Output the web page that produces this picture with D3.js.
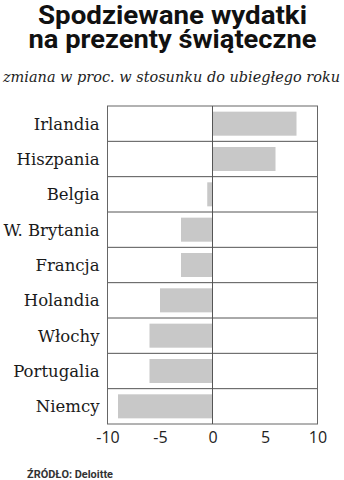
<!DOCTYPE html>
<html><head><meta charset="utf-8">
<script src="https://cdn.jsdelivr.net/npm/d3@7/dist/d3.min.js"></script>
<style>body{margin:0;background:#fff}svg{display:block}</style>
</head><body>
<script>
const categories = ["Irlandia","Hiszpania","Belgia","W. Brytania","Francja","Holandia","Włochy","Portugalia","Niemcy"];
const values = [8, 6, -0.5, -3, -3, -5, -6, -6, -9];
const tickValues = [-10, -5, 0, 5, 10];
const titleLines = ["Spodziewane wydatki", "na prezenty świąteczne"];
const subtitle = "zmiana w proc. w stosunku do ubiegłego roku";
const source = "ŹRÓDŁO: Deloitte";

const W = 344, H = 480;
const svg = d3.select("body").append("svg").attr("width", W).attr("height", H);
const x = d3.scaleLinear().domain([-10, 10]).range([107.5, 317.5]);
const y = d3.scaleBand().domain(categories).range([106, 424]).paddingInner(0.32).paddingOuter(0.16);
const rowH = (424 - 106) / categories.length;

const titleW = [269, 288];
svg.selectAll("text.title").data(titleLines).join("text")
  .attr("x", (d, i) => 172.5 - titleW[i] / 2).attr("y", (d, i) => 24 + i * 23.5)
  .attr("font-family", "Roboto").attr("font-weight", 700).attr("font-size", 26)
  .attr("textLength", (d, i) => titleW[i]).attr("lengthAdjust", "spacingAndGlyphs")
  .attr("fill", "#111").text(d => d);

svg.append("text").attr("x", 3).attr("y", 82)
  .attr("font-family", "DejaVu Serif").attr("font-style", "italic").attr("font-size", 14.5)
  .attr("fill", "#222").attr("textLength", 337).attr("lengthAdjust", "spacingAndGlyphs").text(subtitle);

// bars
svg.selectAll("rect.bar").data(values).join("rect")
  .attr("x", d => x(Math.min(0, d)))
  .attr("width", d => Math.abs(x(d) - x(0)))
  .attr("y", (d, i) => y(categories[i]))
  .attr("height", y.bandwidth())
  .attr("fill", "#c8c8c8");

// row separators
const g = svg.append("g").attr("stroke", "#555").attr("stroke-width", 1);
categories.forEach((c, i) => {
  if (i > 0) g.append("line").attr("x1", 107.5).attr("x2", 317.5)
    .attr("y1", 106 + i * rowH).attr("y2", 106 + i * rowH);
});
svg.append("rect").attr("x", 107.5).attr("y", 106).attr("width", 210).attr("height", 318)
  .attr("fill", "none").attr("stroke", "#666").attr("stroke-width", 1);
svg.append("line").attr("x1", x(0)).attr("x2", x(0)).attr("y1", 106).attr("y2", 424)
  .attr("stroke", "#555").attr("stroke-width", 1);

// category labels
svg.selectAll("text.cat").data(categories).join("text")
  .attr("x", 99.5).attr("y", d => y(d) + y.bandwidth() / 2 + 6)
  .attr("text-anchor", "end")
  .attr("font-family", "DejaVu Serif").attr("font-size", 16.5)
  .attr("fill", "#1a1a1a").text(d => d);

// x axis
const ax = svg.append("g").attr("transform", "translate(0,424)")
  .call(d3.axisBottom(x).tickValues(tickValues).tickSize(0).tickPadding(8)
    .tickFormat(d => String(d)));
ax.select(".domain").remove();
ax.selectAll("text").attr("font-family", "Open Sans").attr("font-size", 16).attr("fill", "#222");

svg.append("text").attr("x", 27).attr("y", 478)
  .attr("font-family", "Roboto").attr("font-weight", 700).attr("font-size", 10)
  .attr("textLength", 86).attr("lengthAdjust", "spacingAndGlyphs")
  .attr("fill", "#333").text(source);
</script>
</body></html>
